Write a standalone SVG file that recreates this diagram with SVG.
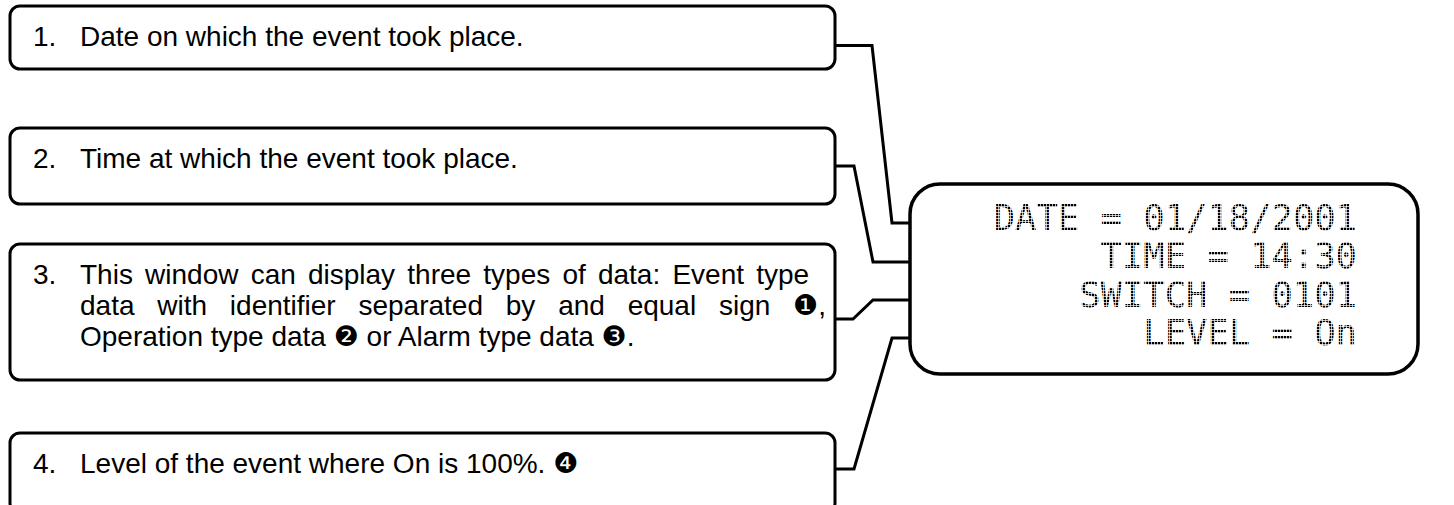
<svg xmlns="http://www.w3.org/2000/svg" width="1454" height="505" viewBox="0 0 1454 505">
<style>
.box{fill:#fff;stroke:#000;stroke-width:3}
.lcd{fill:#fff;stroke:#000;stroke-width:3.5}
.t{font-family:"Liberation Sans","DejaVu Sans",Arial,sans-serif;font-size:28px;fill:#000}
.m{font-family:"DejaVu Sans Mono","Liberation Mono",monospace;font-size:35.5px;text-anchor:end;fill:url(#dots)}
.c{fill:none;stroke:#000;stroke-width:3;stroke-linejoin:miter}
</style>
<defs>
<pattern id="dots" width="3" height="3" patternUnits="userSpaceOnUse">
<rect x="0" y="0" width="2.3" height="2.3" fill="#000"/>
</pattern>
</defs>
<g id="connectors">
<polyline class="c" points="835,45.5 872,45.5 892,223 911,223"/>
<polyline class="c" points="835,166 854,166 873,262 911,262"/>
<polyline class="c" points="835,319 853,319 873,300 911,300"/>
<polyline class="c" points="835,469 854,469 892,338 911,338"/>
</g>
<g id="node1">
<rect class="box" x="10" y="6" width="825" height="63" rx="10"/>
<text class="t" y="46"><tspan x="33">1.</tspan><tspan x="80">Date on which the event took place.</tspan></text>
</g>
<g id="node2">
<rect class="box" x="10" y="128" width="825" height="76" rx="10"/>
<text class="t" y="168"><tspan x="33">2.</tspan><tspan x="80">Time at which the event took place.</tspan></text>
</g>
<g id="node3">
<rect class="box" x="10" y="244" width="825" height="136" rx="10"/>
<text class="t" y="284"><tspan x="33">3.</tspan><tspan x="80" word-spacing="4.4">This window can display three types of data: Event type</tspan></text>
<text class="t" y="315" x="80" word-spacing="15">data with identifier separated by and equal sign ❶,</text>
<text class="t" y="346" x="80">Operation type data ❷ or Alarm type data ❸.</text>
</g>
<g id="node4">
<rect class="box" x="10" y="433" width="825" height="80" rx="10"/>
<text class="t" y="473"><tspan x="33">4.</tspan><tspan x="80">Level of the event where On is 100%. ❹</tspan></text>
</g>
<g id="lcd">
<rect class="lcd" x="910" y="184" width="508" height="190" rx="30"/>
<text class="m" x="1357" y="230">DATE = 01/18/2001</text>
<text class="m" x="1357" y="268">TIME = 14:30</text>
<text class="m" x="1357" y="307">SWITCH = 0101</text>
<text class="m" x="1357" y="345">LEVEL = On</text>
</g>
</svg>
